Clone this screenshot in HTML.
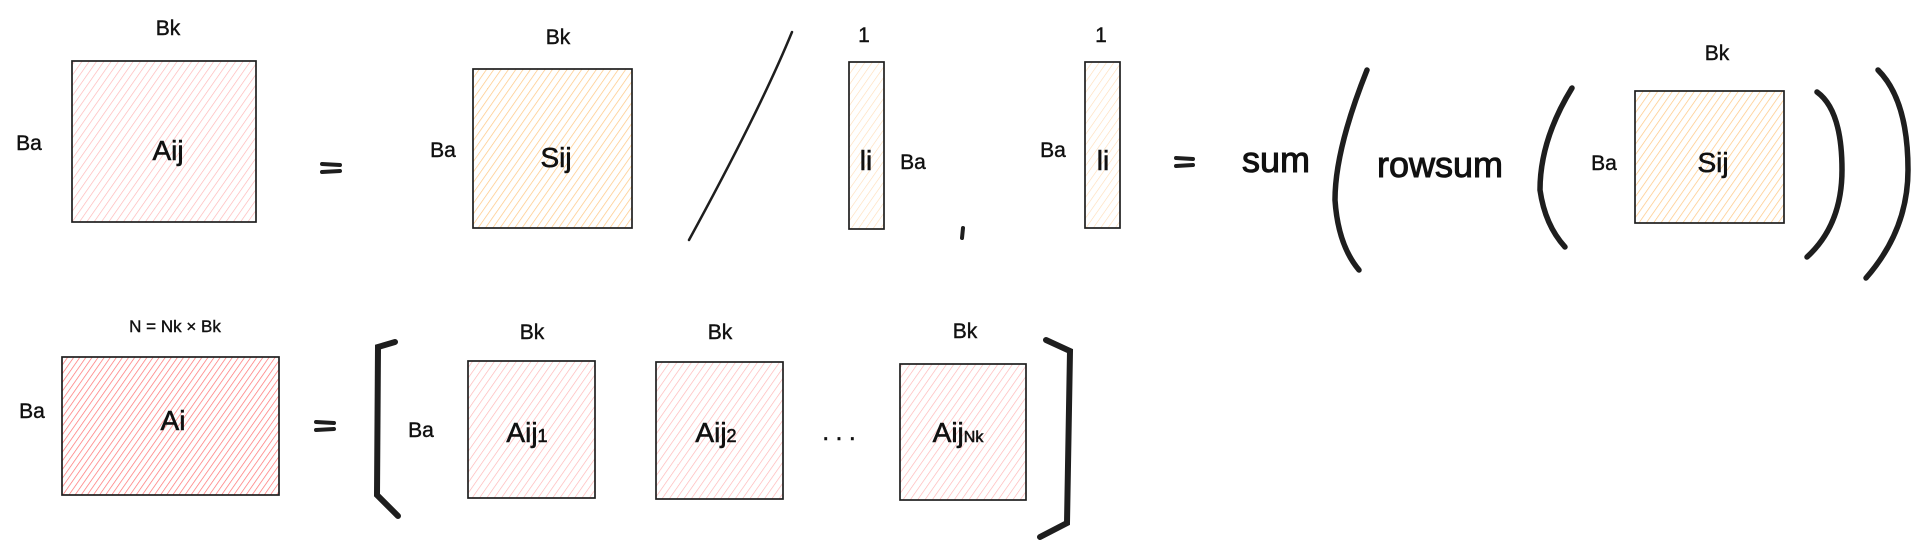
<!DOCTYPE html>
<html><head><meta charset="utf-8"><style>
html,body{margin:0;padding:0;background:#fff;}
svg{display:block;}
text{font-family:"Liberation Sans",sans-serif;fill:#111;}
</style></head><body>
<svg width="1920" height="550" viewBox="0 0 1920 550" xmlns="http://www.w3.org/2000/svg">
<defs>
<pattern id="pl" width="6" height="6" patternUnits="userSpaceOnUse" patternTransform="rotate(35)">
<line x1="0" y1="0" x2="0" y2="6" stroke="#ffb3b3" stroke-width="1.3"/></pattern>
<pattern id="pd" width="5" height="5" patternUnits="userSpaceOnUse" patternTransform="rotate(35)">
<line x1="0" y1="0" x2="0" y2="5" stroke="#ff7070" stroke-width="1.4"/></pattern>
<pattern id="po" width="6" height="6" patternUnits="userSpaceOnUse" patternTransform="rotate(35)">
<line x1="0" y1="0" x2="0" y2="6" stroke="#ffc680" stroke-width="1.4"/></pattern>
<pattern id="pol" width="6" height="6" patternUnits="userSpaceOnUse" patternTransform="rotate(35)">
<line x1="0" y1="0" x2="0" y2="6" stroke="#ffdcb5" stroke-width="1.2"/></pattern>
</defs>
<g stroke="#1e1e1e" stroke-width="1.7">
<rect x="72" y="61" width="184" height="161" fill="url(#pl)"/>
<rect x="473" y="69" width="159" height="159" fill="url(#po)"/>
<rect x="849" y="62" width="35" height="167" fill="url(#pol)"/>
<rect x="1085" y="62" width="35" height="166" fill="url(#pol)"/>
<rect x="1635" y="91" width="149" height="132" fill="url(#po)"/>
<rect x="62" y="357" width="217" height="138" fill="url(#pd)"/>
<rect x="468" y="361" width="127" height="137" fill="url(#pl)"/>
<rect x="656" y="362" width="127" height="137" fill="url(#pl)"/>
<rect x="900" y="364" width="126" height="136" fill="url(#pl)"/>
</g>
<g fill="none" stroke="#1e1e1e" stroke-linecap="round">
<path d="M689 240 Q760 110 792 32" stroke-width="2.5"/>
<path d="M963 228 L962 238" stroke-width="4"/>
<path d="M1367 70 Q1335 150 1335 200 Q1338 245 1359 270" stroke-width="5.5"/>
<path d="M1572 88 Q1540 140 1540 190 Q1545 225 1565 247" stroke-width="5.5"/>
<path d="M1817 92 Q1842 110 1842 170 Q1842 225 1807 257" stroke-width="5.5"/>
<path d="M1878 70 Q1908 100 1908 170 Q1908 230 1866 278" stroke-width="5.5"/>
<path d="M395 342 L378 347 L377 495 L398 516" stroke-width="6"/>
<path d="M1046 340 L1070 351 L1067 523 L1040 537" stroke-width="6"/>
<path d="M322 164 L340 165 M322 172 L340 171" stroke-width="4"/>
<path d="M1176 158 L1193 159 M1176 166 L1193 165" stroke-width="4"/>
<path d="M316 422 L334 423 M316 430 L334 429" stroke-width="4"/>
</g>
<g font-size="21" text-anchor="middle" stroke="#111" stroke-width="0.4">
<text x="168" y="35">Bk</text>
<text x="29" y="150">Ba</text>
<text x="558" y="44">Bk</text>
<text x="443" y="157">Ba</text>
<text x="864" y="42">1</text>
<text x="913" y="169">Ba</text>
<text x="1101" y="42">1</text>
<text x="1053" y="157">Ba</text>
<text x="1717" y="60">Bk</text>
<text x="1604" y="170">Ba</text>
<text x="175" y="332" font-size="17">N = Nk × Bk</text>
<text x="32" y="418">Ba</text>
<text x="421" y="437">Ba</text>
<text x="532" y="339">Bk</text>
<text x="720" y="339">Bk</text>
<text x="965" y="338">Bk</text>
</g>
<g font-size="28" text-anchor="middle" stroke="#111" stroke-width="0.6">
<text x="168" y="160">Aij</text>
<text x="556" y="167">Sij</text>
<text x="866" y="170">li</text>
<text x="1103" y="170">li</text>
<text x="1713" y="172">Sij</text>
<text x="173" y="430">Ai</text>
<text x="527" y="442">Aij<tspan font-size="18">1</tspan></text>
<text x="716" y="442">Aij<tspan font-size="18">2</tspan></text>
<text x="958" y="442">Aij<tspan font-size="16">Nk</tspan></text>
<text x="839" y="440" font-size="24">. . .</text>
</g>
<g font-size="36" text-anchor="middle" stroke="#111" stroke-width="1">
<text x="1276" y="172">sum</text>
<text x="1440" y="177">rowsum</text>
</g>
</svg>
</body></html>
